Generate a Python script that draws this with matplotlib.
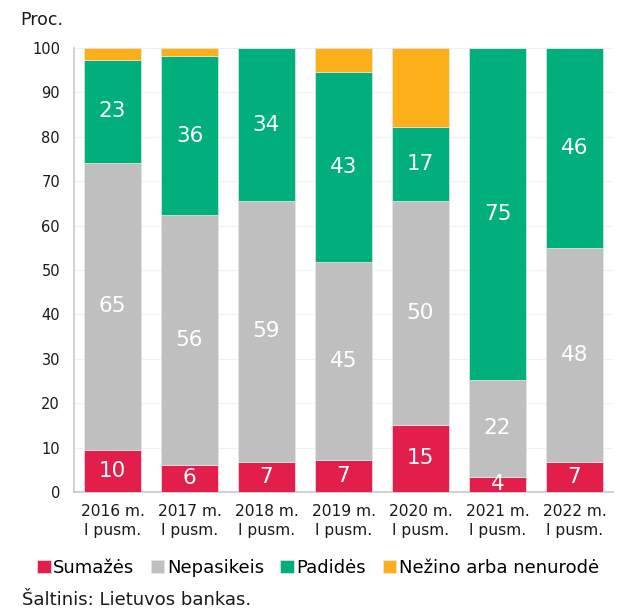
import matplotlib
matplotlib.use("Agg")
import matplotlib.pyplot as plt
import numpy as np

categories = ["2016 m.\nI pusm.", "2017 m.\nI pusm.", "2018 m.\nI pusm.", "2019 m.\nI pusm.",
              "2020 m.\nI pusm.", "2021 m.\nI pusm.", "2022 m.\nI pusm."]
series_names = ["Sumažės", "Nepasikeis", "Padidės", "Nežino arba nenurodė"]
sumazes = [9.5, 6.1, 6.8, 7.2, 15.2, 3.4, 6.7]
nepasikeis = [64.7, 56.3, 58.7, 44.6, 50.3, 21.9, 48.3]
padides = [23.2, 35.7, 34.5, 42.7, 16.8, 74.7, 45.0]
nezino = [2.6, 1.9, 0.0, 5.5, 17.7, 0.0, 0.0]
label_sumazes = [10, 6, 7, 7, 15, 4, 7]
label_nepasikeis = [65, 56, 59, 45, 50, 22, 48]
label_padides = [23, 36, 34, 43, 17, 75, 46]
colors = ["#E21E4B", "#BFBFBF", "#00AF7B", "#FDAF1A"]
yticks = [0, 10, 20, 30, 40, 50, 60, 70, 80, 90, 100]

plt.rcParams['font.family'] = ['DejaVu Sans']
fig = plt.figure(figsize=(6.21, 6.09), dpi=100)
ax = fig.add_axes([74/621, 1-492/609, (613-74)/621, (492-48)/609])

x = np.arange(len(categories))
bottom = np.zeros(len(categories))
series = [sumazes, nepasikeis, padides, nezino]
labels = [label_sumazes, label_nepasikeis, label_padides, None]
for vals, col, labs, name in zip(series, colors, labels, series_names):
    vals = np.array(vals)
    ax.bar(x, vals, width=0.74, bottom=bottom, color=col, edgecolor="#e6e6e6",
           linewidth=0.5, label=name, zorder=3)
    if labs is not None:
        for xi, b, v, l in zip(x, bottom, vals, labs):
            ax.text(xi, b + v / 2, str(l), ha="center", va="center",
                    color="white", fontsize=15.5, zorder=4)
    bottom = bottom + vals

ax.set_xlim(-0.5, len(categories) - 0.5)
ax.set_ylim(0, 100)
ax.set_yticks(yticks)
ax.set_yticklabels([str(t) for t in yticks], fontsize=10.5, color="#1a1a1a")
ax.set_xticks(x)
ax.set_xticklabels(categories, fontsize=11.2, color="#1a1a1a", linespacing=1.3)
ax.tick_params(axis="both", length=0)
ax.tick_params(axis="y", pad=10)
ax.tick_params(axis="x", pad=9)
ax.grid(axis="y", color="#f0f0f0", linewidth=0.9, zorder=0)
for s in ["top", "right"]:
    ax.spines[s].set_visible(False)
for s in ["left", "bottom"]:
    ax.spines[s].set_color("#c8c8c8")
    ax.spines[s].set_linewidth(1.2)

fig.text(20/621, 1-20/609, "Proc.", fontsize=12.5, ha="left", va="center", color="#1a1a1a")

handles, labs = ax.get_legend_handles_labels()
leg = fig.legend(handles, labs, loc="center", bbox_to_anchor=(318/621, 1-568/609), ncol=4,
                 frameon=False, fontsize=13.0, handlelength=0.75, handleheight=0.75,
                 handletextpad=0.15, columnspacing=0.9)

fig.text(22/621, 1-600/609, "Šaltinis: Lietuvos bankas.", fontsize=13, ha="left",
         va="center", color="#1a1a1a")

fig.savefig("out.png", dpi=100)
